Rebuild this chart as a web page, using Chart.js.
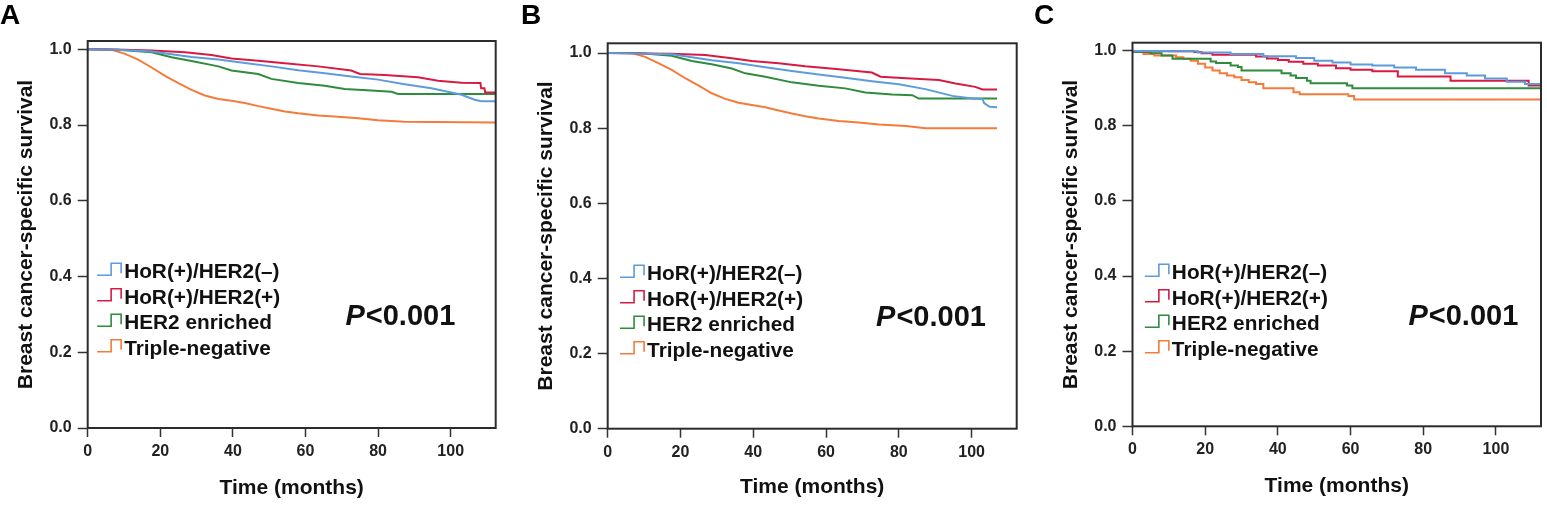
<!DOCTYPE html>
<html>
<head>
<meta charset="utf-8">
<script src="https://cdn.jsdelivr.net/npm/chart.js@4.4.1/dist/chart.umd.min.js"></script>
<style>
  html, body { margin: 0; padding: 0; background: #fff; }
  body { width: 1547px; height: 506px; position: relative; overflow: hidden; font-family: "Liberation Sans", Arial, sans-serif; }
  .panel { position: absolute; top: 0; height: 506px; }
  .tag { position: absolute; top: 0; font-weight: bold; font-size: 28px; line-height: 30px; color: #000; }
</style>
</head>
<body>
<div class="panel" style="left:0;width:515px"><canvas id="chartA"></canvas></div>
<div class="panel" style="left:520px;width:515px"><canvas id="chartB"></canvas></div>
<div class="panel" style="left:1030px;width:517px"><canvas id="chartC"></canvas></div>
<div class="tag" style="left:0">A</div>
<div class="tag" style="left:521px">B</div>
<div class="tag" style="left:1034px">C</div>

<script>
var groupLabels = ['HoR(+)/HER2(–)', 'HoR(+)/HER2(+)', 'HER2 enriched', 'Triple-negative'];
var groupColors = ['#5d9cdc', '#d81a42', '#2f8c3c', '#f47b3a'];
var xTickValues = [0, 20, 40, 60, 80, 100];
var yTickValues = [0, 0.2, 0.4, 0.6, 0.8, 1.0];
var xTitle = 'Time (months)';
var yTitle = 'Breast cancer-specific survival';
var pText = '<0.001';

// Panel A
var A_hrNeg_t = [0, 8, 17.6, 23.1, 28.6, 36, 43.3, 50.6, 58, 65.3, 72.6, 80, 87.3, 94.7, 100.2, 103, 106.6, 108.4, 112.4];
var A_hrNeg_s = [1.0, 0.999, 0.994, 0.987, 0.980, 0.973, 0.964, 0.955, 0.945, 0.937, 0.928, 0.920, 0.908, 0.897, 0.886, 0.880, 0.867, 0.863, 0.863];
var A_hrPos_t = [0, 10, 17.6, 26.8, 34.1, 39.6, 47, 54.3, 63.5, 72.6, 75, 81.8, 91, 96.5, 103, 108.2, 108.4, 109.3, 109.5, 112.4];
var A_hrPos_s = [1.0, 0.999, 0.997, 0.992, 0.985, 0.976, 0.970, 0.963, 0.955, 0.944, 0.935, 0.932, 0.926, 0.917, 0.912, 0.911, 0.897, 0.897, 0.886, 0.886];
var A_her2_t = [0, 8.4, 17.6, 23.1, 28.6, 36, 39.6, 47, 50.6, 58, 65.3, 70.8, 78.2, 83.7, 85.5, 112.4];
var A_her2_s = [1.0, 0.999, 0.992, 0.979, 0.969, 0.955, 0.944, 0.935, 0.922, 0.911, 0.904, 0.895, 0.891, 0.888, 0.882, 0.882];
var A_tn_t = [0, 6.6, 10.3, 13.9, 17.6, 21.3, 25, 28.6, 32.3, 36, 39.6, 43.3, 47, 50.6, 54.3, 58, 63.5, 69, 74.5, 80, 87.3, 112.4];
var A_tn_s = [1.0, 0.999, 0.988, 0.973, 0.952, 0.930, 0.911, 0.893, 0.878, 0.869, 0.864, 0.858, 0.850, 0.843, 0.836, 0.831, 0.825, 0.822, 0.818, 0.813, 0.809, 0.807];

// Panel B
var B_hrNeg_t = [0, 8, 17.6, 23.1, 28.6, 36, 43.3, 50.6, 58, 65.3, 72.6, 80, 87.3, 94.7, 100.2, 103, 103.5, 105, 107];
var B_hrNeg_s = [1.0, 0.999, 0.997, 0.989, 0.981, 0.973, 0.962, 0.952, 0.943, 0.934, 0.925, 0.917, 0.904, 0.886, 0.879, 0.878, 0.866, 0.857, 0.856];
var B_hrPos_t = [0, 10, 17.6, 26.8, 34.1, 39.6, 47, 54.3, 63.5, 72.6, 75, 82, 91, 95.6, 101, 103, 107];
var B_hrPos_s = [1.0, 0.999, 0.998, 0.995, 0.986, 0.979, 0.973, 0.965, 0.957, 0.948, 0.937, 0.933, 0.928, 0.919, 0.910, 0.903, 0.903];
var B_her2_t = [0, 8.4, 17.6, 23.1, 28.6, 34.1, 37.8, 43.3, 50.6, 58, 65.3, 70.8, 78.2, 83.7, 85.5, 107];
var B_her2_s = [1.0, 1.0, 0.993, 0.979, 0.970, 0.959, 0.946, 0.937, 0.922, 0.913, 0.906, 0.895, 0.890, 0.888, 0.879, 0.879];
var B_tn_t = [0, 6.6, 10.3, 13.9, 17.6, 21.3, 25, 28.6, 32.3, 36, 39.6, 43.3, 47, 50.6, 54.3, 58, 63.5, 69, 74.5, 82, 87.3, 107];
var B_tn_s = [1.0, 1.0, 0.990, 0.973, 0.955, 0.933, 0.913, 0.893, 0.878, 0.868, 0.862, 0.856, 0.847, 0.839, 0.832, 0.826, 0.819, 0.815, 0.810, 0.806, 0.800, 0.800];

// Panel C (step points)
var C_hrNeg_t = [0, 10, 18, 27, 36, 45, 50, 55, 60, 66, 72, 78, 86, 92, 97, 103, 108, 111, 112.4];
var C_hrNeg_s = [1.0, 0.999, 0.998, 0.995, 0.991, 0.985, 0.980, 0.973, 0.968, 0.963, 0.960, 0.955, 0.949, 0.940, 0.934, 0.926, 0.917, 0.911, 0.911];
var C_hrPos_t = [0, 17, 19, 22, 34, 37, 40, 43, 47, 51, 56, 60, 66, 73, 87.5, 109, 109.8, 112.4];
var C_hrPos_s = [1.0, 0.998, 0.996, 0.993, 0.989, 0.984, 0.979, 0.975, 0.970, 0.965, 0.960, 0.953, 0.949, 0.945, 0.931, 0.920, 0.907, 0.907];
var C_her2_t = [0, 5, 8, 11, 21.5, 23, 27, 29, 30, 41, 43.5, 45, 48, 49, 59, 60.5, 67, 112.4];
var C_her2_s = [1.0, 0.996, 0.993, 0.987, 0.978, 0.971, 0.967, 0.960, 0.956, 0.947, 0.940, 0.934, 0.927, 0.920, 0.913, 0.907, 0.900, 0.900];
var C_tn_t = [0, 3, 6, 12, 14, 16, 18, 20, 22, 24, 26, 28, 30, 32, 34, 36, 44.3, 46, 59.4, 61, 78, 112.4];
var C_tn_s = [1.0, 0.996, 0.991, 0.987, 0.982, 0.978, 0.973, 0.965, 0.955, 0.947, 0.940, 0.934, 0.929, 0.922, 0.916, 0.911, 0.900, 0.889, 0.884, 0.879, 0.870, 0.870];

var fontFamily = '"Liberation Sans", Arial, sans-serif';
Chart.defaults.font.family = fontFamily;

// frame, legend and p-value drawn on the chart, anchored to scale values
var kmDecor = {
    id: 'kmDecor',
    afterDraw: function (chart, args, o) {
        var ctx = chart.ctx, a = chart.chartArea;
        var x = chart.scales.x, y = chart.scales.y;
        ctx.save();
        ctx.strokeStyle = '#2b2b2b';
        ctx.lineWidth = 2;
        ctx.strokeRect(a.left, a.top, a.right - a.left, a.bottom - a.top);

        var lx = x.getPixelForValue(o.legendAt[0]);
        var ly = y.getPixelForValue(o.legendAt[1]);
        ctx.font = 'bold 20.8px ' + fontFamily;
        ctx.textBaseline = 'alphabetic';
        ctx.textAlign = 'left';
        chart.data.datasets.forEach(function (ds, i) {
            var cy = ly + i * o.rowGap;
            ctx.strokeStyle = ds.borderColor;
            ctx.lineWidth = 1.6;
            ctx.beginPath();
            ctx.moveTo(lx, cy + 4);
            ctx.lineTo(lx + 14, cy + 4);
            ctx.lineTo(lx + 14, cy - 8);
            ctx.lineTo(lx + 24, cy - 8);
            ctx.lineTo(lx + 24, cy + 2);
            ctx.stroke();
            ctx.fillStyle = '#111';
            ctx.fillText(ds.label, lx + 27, cy + 7);
        });

        var px = x.getPixelForValue(o.pAt[0]);
        var py = y.getPixelForValue(o.pAt[1]) + 10;
        ctx.font = 'italic bold 29px ' + fontFamily;
        var wP = ctx.measureText('P').width;
        ctx.font = 'bold 29px ' + fontFamily;
        var wR = ctx.measureText(pText).width;
        var sx = px - (wP + wR) / 2;
        ctx.fillStyle = '#111';
        ctx.font = 'italic bold 29px ' + fontFamily;
        ctx.fillText('P', sx, py);
        ctx.font = 'bold 29px ' + fontFamily;
        ctx.fillText(pText, sx + wP + 1, py);
        ctx.restore();
    }
};

function makeKmChart(canvasId, times, survs, box) {
    var datasets = groupLabels.map(function (label, i) {
        return {
            label: label,
            data: times[i].map(function (t, j) { return { x: t, y: survs[i][j] }; }),
            borderColor: groupColors[i],
            backgroundColor: groupColors[i],
            borderWidth: 2,
            pointRadius: 0,
            fill: false,
            tension: 0,
            stepped: box.stepped ? 'after' : false
        };
    });

    var tickFont = { family: fontFamily, weight: 'bold', size: 16 };
    var titleFont = { family: fontFamily, weight: 'bold', size: 21 };

    return new Chart(document.getElementById(canvasId), {
        type: 'line',
        data: { datasets: datasets },
        options: {
            responsive: true,
            maintainAspectRatio: false,
            animation: false,
            events: [],
            layout: { padding: { top: box.top, right: box.right, left: 0, bottom: 0 } },
            plugins: {
                legend: { display: false },
                tooltip: { enabled: false },
                kmDecor: { legendAt: box.legendAt, rowGap: 25.5, pAt: box.pAt }
            },
            scales: {
                x: {
                    type: 'linear',
                    min: 0,
                    max: 112.4,
                    afterBuildTicks: function (s) { s.ticks = xTickValues.map(function (v) { return { value: v }; }); },
                    afterFit: function (s) { s.height = box.xHeight; },
                    ticks: { color: '#222', font: tickFont, padding: 5, maxRotation: 0, autoSkip: false },
                    grid: { drawOnChartArea: false, drawTicks: true, tickLength: 9, tickColor: '#333', tickWidth: 1.5 },
                    border: { display: false },
                    title: { display: true, text: xTitle, color: '#111', font: titleFont, padding: { top: 0, bottom: box.xTitlePad } }
                },
                y: {
                    type: 'linear',
                    min: 0,
                    max: box.yMax,
                    afterBuildTicks: function (s) { s.ticks = yTickValues.map(function (v) { return { value: v }; }); },
                    afterFit: function (s) { s.width = box.yWidth; },
                    ticks: {
                        color: '#222', font: tickFont, padding: 6, autoSkip: false,
                        callback: function (v) { return Number(v).toFixed(1); }
                    },
                    grid: { drawOnChartArea: false, drawTicks: true, tickLength: 10, tickColor: '#333', tickWidth: 1.5 },
                    border: { display: false },
                    title: { display: true, text: yTitle, color: '#111', font: titleFont, padding: { top: box.yTitlePad, bottom: 0 } }
                }
            }
        },
        plugins: [kmDecor]
    });
}

makeKmChart('chartA',
    [A_hrNeg_t, A_hrPos_t, A_her2_t, A_tn_t],
    [A_hrNeg_s, A_hrPos_s, A_her2_s, A_tn_s],
    { top: 41, right: 19.3, xHeight: 78, yWidth: 87.7, yMax: 1.022, xTitlePad: 5.5, yTitlePad: 13.5,
      legendAt: [2.6, 0.414], pAt: [86, 0.298], stepped: false });

makeKmChart('chartB',
    [B_hrNeg_t, B_hrPos_t, B_her2_t, B_tn_t],
    [B_hrNeg_s, B_hrPos_s, B_her2_s, B_tn_s],
    { top: 43.3, right: 18.3, xHeight: 77.3, yWidth: 87.7, yMax: 1.026, xTitlePad: 6.5, yTitlePad: 13.5,
      legendAt: [3.4, 0.414], pAt: [88.7, 0.30], stepped: false });

makeKmChart('chartC',
    [C_hrNeg_t, C_hrPos_t, C_her2_t, C_tn_t],
    [C_hrNeg_s, C_hrPos_s, C_her2_s, C_tn_s],
    { top: 42.7, right: 6, xHeight: 79.7, yWidth: 102.5, yMax: 1.021, xTitlePad: 7, yTitlePad: 28.5,
      legendAt: [3.4, 0.41], pAt: [90.9, 0.296], stepped: true });
</script>
</body>
</html>
